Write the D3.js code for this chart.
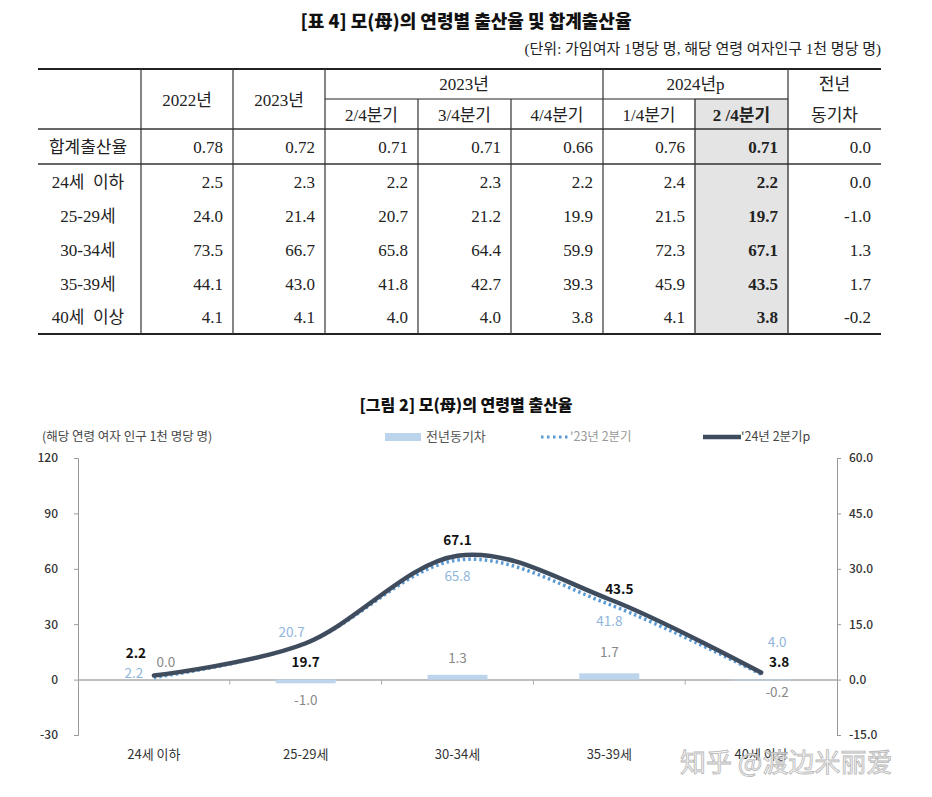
<!DOCTYPE html>
<html><head><meta charset="utf-8">
<script src="https://cdn.jsdelivr.net/npm/d3@7"></script>
<style>body{margin:0;background:#fff}</style>
</head><body>
<script>
// ---------- DATA ----------
const rowLabels = ["합계출산율","24세  이하","25-29세","30-34세","35-39세","40세  이상"];
const y2022 = ["0.78","2.5","24.0","73.5","44.1","4.1"];
const y2023 = ["0.72","2.3","21.4","66.7","43.0","4.1"];
const q2_23 = ["0.71","2.2","20.7","65.8","41.8","4.0"];
const q3_23 = ["0.71","2.3","21.2","64.4","42.7","4.0"];
const q4_23 = ["0.66","2.2","19.9","59.9","39.3","3.8"];
const q1_24 = ["0.76","2.4","21.5","72.3","45.9","4.1"];
const q2_24 = ["0.71","2.2","19.7","67.1","43.5","3.8"];
const diffYoY = ["0.0","0.0","-1.0","1.3","1.7","-0.2"];
const yearHeads = ["2022년","2023년"];
const quarterHeads = ["2/4분기","3/4분기","4/4분기","1/4분기","2 /4분기"];
const groupHeads = ["2023년","2024년p"];
const diffHead = ["전년","동기차"];

const chartCats = ["24세 이하","25-29세","30-34세","35-39세","40세 이상"];
const s23 = [2.2,20.7,65.8,41.8,4.0];
const s24 = [2.2,19.7,67.1,43.5,3.8];
const sDiff = [0.0,-1.0,1.3,1.7,-0.2];
const leftTicks = [-30,0,30,60,90,120];
const rightTicks = [-15,0,15,30,45,60];

// ---------- SETUP ----------
const W=932,H=797;
const svg=d3.select("body").append("svg").attr("width",W).attr("height",H);
const SERIF='"Liberation Serif","DejaVu Serif","Noto Sans CJK KR",serif';
const SANS='"Noto Sans CJK KR","Noto Sans",sans-serif';
const fmt1=v=>d3.format(".1f")(v).replace("\u2212","-");

// ---------- TABLE ----------
svg.append("text").attr("x",466).attr("y",28).attr("text-anchor","middle")
  .attr("font-family",SANS).attr("font-weight",900).attr("font-size",18).attr("fill","#111")
  .text("[표 4] 모(母)의 연령별 출산율 및 합계출산율");
svg.append("text").attr("x",881).attr("y",54).attr("text-anchor","end")
  .attr("font-family",SERIF).attr("font-size",15).attr("fill","#222")
  .text("(단위: 가임여자 1명당 명, 해당 연령 여자인구 1천 명당 명)");

const colEdges=[38,141,233,325,418,511,603,695,788,881];
const tTop=69,tSub=99,tHead=129,tRow1=164,tBot=334;
const rowEdges=[tHead,tRow1,199,233,267,300,tBot];
const cols=[y2022,y2023,q2_23,q3_23,q4_23,q1_24,q2_24,diffYoY];
const tg=svg.append("g");
tg.append("rect").attr("x",colEdges[7]).attr("y",tSub).attr("width",colEdges[8]-colEdges[7])
  .attr("height",tBot-tSub).attr("fill","#e4e4e4").attr("stroke","#aaa").attr("stroke-width",0.8);
const hl=(y,x1,x2,w,c)=>tg.append("line").attr("x1",x1).attr("x2",x2).attr("y1",y).attr("y2",y).attr("stroke",c||"#222").attr("stroke-width",w);
hl(tTop,38,881,2.2);
hl(tSub,325,788,1);
hl(tHead,38,881,1.4,"#333");
hl(tRow1,38,881,1.4,"#333");
hl(tBot,38,881,2.2);
const vStart=[null,tTop,tTop,tTop,tSub,tSub,tTop,tSub,tTop,null];
colEdges.forEach((x,i)=>{ if(vStart[i]!==null) tg.append("line").attr("x1",x).attr("x2",x).attr("y1",vStart[i]).attr("y2",tBot).attr("stroke","#333").attr("stroke-width",1.2);});
const txt=(x,y,s,anchor,bold)=>tg.append("text").attr("x",x).attr("y",y).attr("text-anchor",anchor||"middle")
  .attr("font-family",SERIF).attr("font-size",17).attr("font-weight",bold?700:400).attr("fill","#222").text(s);
const mid=i=>(colEdges[i]+colEdges[i+1])/2;
txt(mid(1),106,yearHeads[0]);
txt(mid(2),106,yearHeads[1]);
txt((colEdges[3]+colEdges[6])/2,90,groupHeads[0]);
txt((colEdges[6]+colEdges[8])/2,90,groupHeads[1]);
quarterHeads.forEach((q,k)=>txt(mid(k+3),121,q,"middle",k===4));
txt(mid(8),90,diffHead[0]);
txt(mid(8),121,diffHead[1]);
rowLabels.forEach((lab,r)=>{
  const yc=(rowEdges[r]+rowEdges[r+1])/2+6;
  txt(88,yc,lab).style("white-space","pre");
  cols.forEach((col,c)=>{ txt(colEdges[c+2]-10,yc,col[r],"end",c===6); });
});

// ---------- CHART ----------
svg.append("text").attr("x",466).attr("y",411).attr("text-anchor","middle")
  .attr("font-family",SANS).attr("font-weight",900).attr("font-size",16).attr("fill","#111")
  .text("[그림 2] 모(母)의 연령별 출산율");
svg.append("text").attr("x",42).attr("y",441).attr("font-family",SANS).attr("font-size",12.5).attr("fill","#444")
  .text("(해당 연령 여자 인구 1천 명당 명)");

const pL=78,pR=837;
const x=d3.scaleBand().domain(chartCats).range([pL,pR]).paddingInner(0).paddingOuter(0);
const yL=d3.scaleLinear().domain([-30,120]).range([735,458]);
const yR=d3.scaleLinear().domain([-15,60]).range([735,458]);
const cg=svg.append("g");

const axL=cg.append("g").attr("transform",`translate(${pL},0)`).call(d3.axisLeft(yL).tickValues(leftTicks).tickFormat(d=>String(d)).tickSize(4).tickPadding(16));
const axR=cg.append("g").attr("transform",`translate(${pR},0)`).call(d3.axisRight(yR).tickValues(rightTicks).tickFormat(fmt1).tickSize(4).tickPadding(8));
[axL,axR].forEach(a=>{a.select(".domain").attr("stroke","#999");a.selectAll(".tick line").attr("stroke","#999");
  a.selectAll("text").attr("font-family",SANS).attr("font-size",12).attr("font-weight",500).attr("fill","#333");});
const axB=cg.append("g").attr("transform",`translate(0,${yL(0)})`).call(d3.axisBottom(x).tickSize(0).tickPadding(70));
axB.select(".domain").attr("stroke","#aaa").attr("stroke-width",1.5);
axB.selectAll("text").attr("font-family",SANS).attr("font-size",13).attr("fill","#333");
chartCats.slice(1).forEach(c=>cg.append("line").attr("x1",x(c)).attr("x2",x(c)).attr("y1",yL(0)).attr("y2",yL(0)+5).attr("stroke","#aaa"));

const bw=60;
cg.selectAll(".bar").data(sDiff).enter().append("rect")
  .attr("x",(d,i)=>x(chartCats[i])+x.bandwidth()/2-bw/2).attr("width",bw)
  .attr("y",d=>Math.min(yR(d),yR(0))).attr("height",d=>Math.abs(yR(d)-yR(0)))
  .attr("fill","#bcd5ec");

const cx=(i)=>x(chartCats[i])+x.bandwidth()/2;
const line=(arr)=>d3.line().x((d,i)=>cx(i)).y(d=>yL(d)).curve(d3.curveCardinal.tension(0))(arr);
cg.append("path").attr("d",line(s23)).attr("fill","none").attr("stroke","#5b9bd5").attr("stroke-width",3.5)
  .attr("stroke-dasharray","2.5,3").attr("transform","translate(0,2)");
cg.append("path").attr("d",line(s24)).attr("fill","none").attr("stroke","#3f4c5e").attr("stroke-width",4.5).attr("stroke-linecap","round");

const lab=(i,v,dx,dy,color,bold,src)=>cg.append("text").attr("x",cx(i)+dx).attr("y",src(v)+dy).attr("text-anchor","middle")
  .attr("font-family",SANS).attr("font-size",13.5).attr("font-weight",bold?700:400).attr("fill",color).text(fmt1(v));
const off24=[[-18,-18],[0,24],[0,-11],[10,-5],[18,-6]];
const off23=[[-20,2],[-14,-4],[0,23],[0,24],[16,-25]];
const offD=[[12,-13],[0,22],[0,-12],[0,-16],[16,17]];
s23.forEach((v,i)=>lab(i,v,off23[i][0],off23[i][1],"#8fb6dc",false,yL));
s24.forEach((v,i)=>lab(i,v,off24[i][0],off24[i][1],"#111",true,yL));
sDiff.forEach((v,i)=>lab(i,v,offD[i][0],offD[i][1],"#888",false,yR));

const lg=cg.append("g");
lg.append("rect").attr("x",385).attr("y",433).attr("width",36).attr("height",8).attr("fill","#bcd5ec");
lg.append("text").attr("x",426).attr("y",441).attr("font-family",SANS).attr("font-size",13).attr("fill","#555").text("전년동기차");
lg.append("line").attr("x1",541).attr("x2",568).attr("y1",437).attr("y2",437).attr("stroke","#5b9bd5").attr("stroke-width",3).attr("stroke-dasharray","2.5,3.5");
lg.append("text").attr("x",570).attr("y",441).attr("font-family",SANS).attr("font-size",12.5).attr("fill","#999").text("'23년 2분기");
lg.append("line").attr("x1",703).attr("x2",741).attr("y1",437).attr("y2",437).attr("stroke","#3f4c5e").attr("stroke-width",4.5);
lg.append("text").attr("x",741).attr("y",441).attr("font-family",SANS).attr("font-size",12.5).attr("fill","#444").text("'24년 2분기p");

svg.append("text").attr("x",680).attr("y",772).attr("font-family",'"Noto Sans CJK SC",sans-serif').attr("font-size",26)
  .attr("fill","#f4f4f4").attr("stroke","#b0b0b0").attr("stroke-width",0.8).attr("opacity",0.9).text("知乎 @渡边米丽爱");
</script>
</body></html>
